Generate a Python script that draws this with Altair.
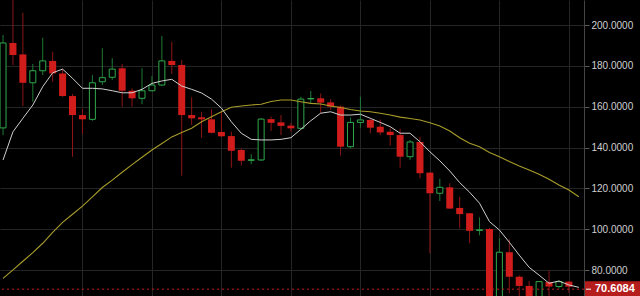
import altair as alt
import pandas as pd

# ---- data ----
opens = [149.6, 191.2, 185.6, 171.7, 177.6, 182.4, 176.3, 165.2, 155.9, 153.8,
         172.2, 174.4, 178.8, 167.8, 164.1, 167.8, 170.6, 182.4, 180.4, 155.9,
         154.8, 153.8, 147.6, 145.6, 138.8, 133.7, 133.9, 153.9, 152.3, 150.7,
         149.4, 163.8, 164.1, 162.1, 160.0, 140.4, 152.3, 153.5, 150.2, 147.7,
         146.1, 135.5, 142.7, 127.7, 117.6, 120.5, 110.4, 107.8, 99.4, 100.1,
         62.0, 88.7, 76.7, 72.2, 64.0, 74.1, 71.9, 74.3]
highs = [195.1, 214.0, 206.0, 180.9, 193.8, 186.9, 178.3, 166.2, 158.9, 175.5,
         188.6, 183.7, 180.9, 169.0, 178.8, 175.0, 194.6, 191.8, 182.9, 164.6,
         157.5, 158.7, 157.5, 147.8, 139.5, 136.7, 154.4, 155.1, 155.9, 152.0,
         164.9, 167.7, 166.5, 163.7, 160.6, 154.7, 164.9, 154.0, 153.7, 149.4,
         149.2, 143.7, 145.3, 127.9, 124.7, 122.5, 115.9, 107.9, 105.8, 100.6,
         95.5, 95.0, 77.4, 74.6, 74.6, 79.7, 74.9, 74.6]
lows = [146.1, 180.4, 160.3, 162.4, 175.5, 172.2, 164.8, 135.5, 146.5, 153.1,
        170.6, 173.1, 160.0, 160.0, 161.2, 167.5, 170.1, 176.0, 126.2, 151.0,
        144.8, 146.9, 145.0, 130.1, 131.2, 131.8, 133.4, 148.1, 146.1, 147.7,
        149.1, 161.6, 156.8, 158.4, 136.0, 139.6, 149.7, 147.0, 146.1, 140.9,
        130.1, 133.9, 124.9, 88.2, 113.8, 109.9, 100.4, 93.2, 97.0, 60.0,
        60.0, 68.6, 66.0, 62.0, 62.0, 66.0, 71.0, 68.9]
closes = [191.2, 185.3, 171.7, 177.6, 182.4, 176.3, 165.2, 155.9, 153.8, 171.7,
          174.2, 178.4, 167.8, 164.1, 167.8, 170.6, 182.4, 180.4, 155.9, 154.3,
          153.8, 147.2, 145.5, 138.4, 133.5, 134.0, 153.9, 152.1, 150.6, 149.4,
          163.7, 164.0, 162.0, 160.0, 140.4, 152.3, 153.5, 149.7, 147.4, 146.1,
          135.5, 142.7, 127.4, 117.6, 120.5, 110.1, 107.4, 99.2, 99.7, 62.0,
          88.7, 76.7, 72.2, 64.0, 74.3, 71.9, 74.3, 71.8]
ma_fast = [133.9, 147.7, 154.3, 160.8, 169.8, 176.6, 178.4, 173.9, 169.0, 169.0,
           168.7, 167.8, 166.8, 166.8, 168.5, 171.4, 172.6, 173.4, 170.1, 168.5,
           166.7, 163.7, 159.3, 152.6, 147.0, 144.0, 143.7, 143.7, 144.0, 144.8,
           148.9, 153.1, 156.8, 157.5, 155.9, 155.9, 156.3, 154.3, 152.3, 150.2,
           147.0, 147.0, 142.8, 137.9, 133.5, 128.5, 122.8, 118.1, 112.7, 103.7,
           99.6, 93.6, 87.3, 81.3, 77.5, 73.5, 74.6, 72.7, 71.5]
ma_slow = [75.9, 80.1, 84.3, 88.5, 93.1, 98.4, 103.3, 107.3, 111.3, 115.8,
           120.4, 124.0, 127.9, 131.6, 135.2, 138.8, 142.0, 145.2, 147.3, 149.4,
           152.6, 155.1, 157.5, 159.7, 160.3, 160.8, 161.2, 162.5, 163.3, 163.3,
           162.4, 161.6, 161.3, 160.3, 159.6, 158.6, 157.9, 157.5, 156.8, 155.9,
           154.9, 154.2, 153.5, 152.1, 150.5, 148.1, 144.8, 142.1, 140.4, 137.6,
           135.5, 133.1, 130.9, 129.0, 126.9, 124.4, 121.6, 119.2, 115.9]
last_price = 70.6084
y_ticks = [80, 100, 120, 140, 160, 180, 200]
x_grid = [8, 15, 22, 29, 36, 43, 50, 57]

RED = "#d11c1c"
RED_WICK = "#8e1616"
GREEN = "#2fa94b"
GREEN_WICK = "#1f7a35"
GRID = "#252525"

candles = pd.DataFrame({
    "k": list(range(len(opens))),
    "open": opens, "high": highs, "low": lows, "close": closes,
})
candles["up"] = candles["close"] >= candles["open"]
lines = pd.DataFrame({"k": list(range(len(ma_fast))), "fast": ma_fast, "slow": ma_slow})
last_df = pd.DataFrame({"price": [last_price]})

xs = alt.Scale(domain=[0.198, 58.02], nice=False, zero=False)
ys = alt.Scale(domain=[67.27, 212.245], nice=False, zero=False)

xaxis = alt.Axis(values=x_grid, labels=False, ticks=False, domain=False,
                 grid=True, gridColor=GRID, title=None)
yaxis = alt.Axis(orient="right", values=y_ticks, format=".4f", title=None,
                 labelColor="#cfcfcf", labelFont="Liberation Sans", labelFontSize=10,
                 labelPadding=2, tickColor="#5a5a5a", tickSize=5,
                 domainColor="#444444", grid=True, gridColor=GRID)


def X():
    return alt.X("k:Q", scale=xs, axis=xaxis, title=None)


def Y(field):
    return alt.Y(field, type="quantitative", scale=ys, axis=yaxis, title=None)


base = alt.Chart(candles)
up = base.transform_filter("datum.up")
down = base.transform_filter("!datum.up")

wick_down = down.mark_rule(color=RED_WICK, strokeWidth=1, clip=True).encode(
    x=X(), y=Y("low"), y2="high:Q")
wick_up = up.mark_rule(color=GREEN_WICK, strokeWidth=1, clip=True).encode(
    x=X(), y=Y("low"), y2="high:Q")
body_down = down.mark_bar(color=RED, size=7, clip=True).encode(
    x=X(), y=Y("open"), y2="close:Q")
body_up = up.mark_bar(fill="#000000", stroke=GREEN, strokeWidth=1, size=6, clip=True).encode(
    x=X(), y=Y("open"), y2="close:Q")

lbase = alt.Chart(lines)
slow_line = lbase.mark_line(color="#a89c2a", strokeWidth=1.1, clip=True).encode(
    x=X(), y=Y("slow"))
fast_line = lbase.mark_line(color="#d0d0d0", strokeWidth=1.0, clip=True).encode(
    x=X(), y=Y("fast"))

pbase = alt.Chart(last_df)
price_rule = pbase.mark_rule(color="#c11d1d", strokeDash=[2, 3], strokeWidth=1).encode(
    y=Y("price"))
price_box = pbase.mark_rect(color="#b51c1c", yOffset=-8, y2Offset=8).encode(
    x=alt.value(585), x2=alt.value(640), y=Y("price"), y2="price:Q")
price_tick = pbase.mark_rule(color="#ffffff", strokeWidth=1).encode(
    x=alt.value(586), x2=alt.value(591), y=Y("price"))
price_text = pbase.mark_text(align="left", baseline="middle", color="#ffffff",
                             font="Liberation Sans", fontSize=11, fontWeight="bold").encode(
    x=alt.value(595), y=Y("price"),
    text=alt.Text("price:Q", format=".4f"))

chart = alt.layer(
    wick_down, wick_up, body_down, body_up,
    slow_line, fast_line, price_rule, price_box, price_tick, price_text
).properties(
    width=584, height=296,
    autosize=alt.AutoSizeParams(type="none"),
    padding={"left": 0, "top": 0, "right": 56, "bottom": 0},
    background="#000000",
).configure_view(stroke=None)

chart.save("out.html", embed_options={"renderer": "svg", "actions": False})
